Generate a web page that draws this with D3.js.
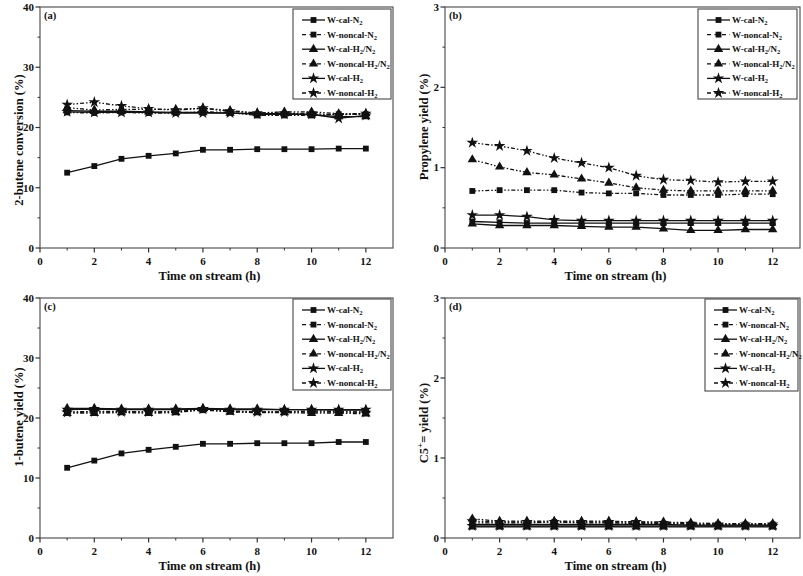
<!DOCTYPE html>
<html>
<head>
  <meta charset="utf-8">
  <script src="https://d3js.org/d3.v7.min.js"></script>
  <style>
    body { margin: 0; background: #fff; }
    svg text { font-family: "Liberation Serif", "Times New Roman", serif; font-weight: bold; fill: #111; }
  </style>
</head>
<body>
<script>
  // time on stream (h)
  var hours = [1, 2, 3, 4, 5, 6, 7, 8, 9, 10, 11, 12];

  // (a) 2-butene conversion (%)
  var convCalN2      = [12.5, 13.6, 14.8, 15.3, 15.7, 16.3, 16.3, 16.4, 16.4, 16.4, 16.5, 16.5];
  var convNoncalN2   = [22.5, 22.4, 22.5, 22.4, 22.4, 22.6, 22.5, 22.0, 22.0, 22.0, 22.2, 22.2];
  var convCalH2N2    = [22.8, 22.7, 22.7, 22.6, 22.5, 22.5, 22.4, 22.3, 22.3, 22.1, 21.8, 21.8];
  var convNoncalH2N2 = [23.3, 22.9, 23.0, 23.0, 23.0, 23.2, 22.8, 22.4, 22.6, 22.6, 22.3, 22.3];
  var convCalH2      = [22.6, 22.5, 22.5, 22.5, 22.4, 22.4, 22.4, 22.2, 22.2, 22.2, 21.5, 22.0];
  var convNoncalH2   = [23.8, 24.2, 23.6, 23.1, 22.9, 23.2, 22.7, 22.4, 22.4, 22.3, 22.1, 22.3];

  // (b) propylene yield (%)
  var propCalN2      = [0.33, 0.32, 0.31, 0.31, 0.31, 0.31, 0.31, 0.31, 0.31, 0.31, 0.31, 0.31];
  var propNoncalN2   = [0.71, 0.72, 0.72, 0.72, 0.69, 0.68, 0.68, 0.66, 0.66, 0.66, 0.67, 0.67];
  var propCalH2N2    = [0.30, 0.28, 0.28, 0.28, 0.27, 0.26, 0.26, 0.24, 0.22, 0.22, 0.23, 0.23];
  var propNoncalH2N2 = [1.10, 1.01, 0.94, 0.91, 0.86, 0.81, 0.75, 0.72, 0.71, 0.71, 0.71, 0.71];
  var propCalH2      = [0.41, 0.41, 0.39, 0.35, 0.34, 0.34, 0.34, 0.34, 0.34, 0.34, 0.34, 0.34];
  var propNoncalH2   = [1.31, 1.27, 1.21, 1.12, 1.06, 1.00, 0.90, 0.85, 0.84, 0.82, 0.83, 0.83];

  // (c) 1-butene yield (%)
  var butCalN2       = [11.7, 12.9, 14.1, 14.7, 15.2, 15.7, 15.7, 15.8, 15.8, 15.8, 16.0, 16.0];
  var butNoncalN2    = [21.0, 21.1, 21.1, 21.0, 21.0, 21.3, 21.1, 21.0, 21.0, 21.0, 21.0, 21.0];
  var butCalH2N2     = [21.6, 21.6, 21.5, 21.5, 21.5, 21.6, 21.5, 21.5, 21.4, 21.4, 21.3, 21.3];
  var butNoncalH2N2  = [20.8, 20.8, 20.9, 20.8, 20.9, 21.4, 21.0, 20.9, 20.9, 20.8, 20.8, 20.7];
  var butCalH2       = [21.4, 21.5, 21.4, 21.4, 21.4, 21.5, 21.4, 21.4, 21.4, 21.4, 21.4, 21.4];
  var butNoncalH2    = [20.9, 21.0, 21.0, 21.0, 21.1, 21.5, 21.2, 21.0, 21.0, 21.2, 21.1, 20.9];

  // (d) C5+ = yield (%)
  var c5CalN2        = [0.17, 0.17, 0.17, 0.17, 0.17, 0.17, 0.17, 0.17, 0.16, 0.16, 0.16, 0.16];
  var c5NoncalN2     = [0.19, 0.19, 0.19, 0.20, 0.19, 0.19, 0.18, 0.18, 0.17, 0.17, 0.17, 0.17];
  var c5CalH2N2      = [0.14, 0.14, 0.14, 0.14, 0.14, 0.14, 0.14, 0.14, 0.14, 0.14, 0.14, 0.14];
  var c5NoncalH2N2   = [0.24, 0.21, 0.21, 0.21, 0.21, 0.21, 0.20, 0.20, 0.19, 0.18, 0.18, 0.18];
  var c5CalH2        = [0.15, 0.15, 0.15, 0.15, 0.15, 0.15, 0.15, 0.15, 0.15, 0.15, 0.15, 0.15];
  var c5NoncalH2     = [0.21, 0.20, 0.20, 0.20, 0.20, 0.20, 0.20, 0.19, 0.18, 0.17, 0.17, 0.17];

  // legend labels: [text, subscript, text, subscript]
  var seriesLabels = [
    ["W-cal-N", "2"],
    ["W-noncal-N", "2"],
    ["W-cal-H", "2", "/N", "2"],
    ["W-noncal-H", "2", "/N", "2"],
    ["W-cal-H", "2"],
    ["W-noncal-H", "2"]
  ];
  var seriesSymbols = [d3.symbolSquare, d3.symbolSquare, d3.symbolTriangle, d3.symbolTriangle, d3.symbolStar, d3.symbolStar];
  var seriesDashed = [false, true, false, true, false, true];
  var symbolSizes = { square: 34, triangle: 38, star: 42 };

  var xTicks = [0, 2, 4, 6, 8, 10, 12];

  var svg = d3.select("body").append("svg")
      .attr("width", 803)
      .attr("height", 576);

  function symSize(s) {
    if (s === d3.symbolSquare) return symbolSizes.square;
    if (s === d3.symbolTriangle) return symbolSizes.triangle;
    return symbolSizes.star;
  }

  function drawPanel(p) {
    var x = d3.scaleLinear().domain([0, 13]).range([p.left, p.right]);
    var y = d3.scaleLinear().domain([0, p.ymax]).range([p.bottom, p.top]);
    var g = svg.append("g");

    // frame
    g.append("rect")
      .attr("x", p.left).attr("y", p.top)
      .attr("width", p.right - p.left).attr("height", p.bottom - p.top)
      .attr("fill", "none").attr("stroke", "#555").attr("stroke-width", 1.2);

    // x axis
    var xMinor = d3.range(1, 13, 2);
    g.selectAll(".xminor").data(xMinor).enter().append("line")
      .attr("x1", d => x(d)).attr("x2", d => x(d))
      .attr("y1", p.bottom).attr("y2", p.bottom + 2.5)
      .attr("stroke", "#333").attr("stroke-width", 1);
    g.selectAll(".xmajor").data(xTicks).enter().append("line")
      .attr("x1", d => x(d)).attr("x2", d => x(d))
      .attr("y1", p.bottom).attr("y2", p.bottom + 4.5)
      .attr("stroke", "#333").attr("stroke-width", 1.2);
    g.selectAll(".xlab").data(xTicks).enter().append("text")
      .attr("x", d => x(d)).attr("y", p.bottom + 17)
      .attr("text-anchor", "middle").style("font-size", "11px")
      .text(d => d);

    // y axis
    var yMinor = d3.range(p.ystep / 2, p.ymax, p.ystep);
    var yMajor = d3.range(0, p.ymax + p.ystep / 2, p.ystep);
    g.selectAll(".yminor").data(yMinor).enter().append("line")
      .attr("x1", p.left - 2.5).attr("x2", p.left)
      .attr("y1", d => y(d)).attr("y2", d => y(d))
      .attr("stroke", "#333").attr("stroke-width", 1);
    g.selectAll(".ymajor").data(yMajor).enter().append("line")
      .attr("x1", p.left - 4.5).attr("x2", p.left)
      .attr("y1", d => y(d)).attr("y2", d => y(d))
      .attr("stroke", "#333").attr("stroke-width", 1.2);
    g.selectAll(".ylab").data(yMajor).enter().append("text")
      .attr("x", p.left - 6).attr("y", d => y(d) + 3.8)
      .attr("text-anchor", "end").style("font-size", "11px")
      .text(d => d);

    // axis titles
    g.append("text")
      .attr("x", (p.left + p.right) / 2 - 7).attr("y", p.bottom + 32)
      .attr("text-anchor", "middle").style("font-size", "12.5px")
      .text("Time on stream (h)");

    var yt = g.append("text")
      .attr("transform", "translate(" + (p.left - 17) + "," + p.ytitleY + ") rotate(-90)")
      .attr("text-anchor", "middle").style("font-size", "12.5px");
    if (p.c5) {
      yt.append("tspan").text("C5");
      yt.append("tspan").attr("dy", -5).style("font-size", "9px").text("+");
      yt.append("tspan").attr("dy", 5).text("= yield (%)");
    } else {
      yt.text(p.ytitle);
    }

    // panel label
    g.append("text")
      .attr("x", p.left + 4).attr("y", p.top + 12)
      .style("font-size", "10.5px")
      .text(p.label);

    // series
    var line = d3.line().x(d => x(d[0])).y(d => y(d[1]));
    p.series.forEach(function (vals, i) {
      var pts = hours.map((h, k) => [h, vals[k]]);
      g.append("path")
        .attr("d", line(pts))
        .attr("fill", "none").attr("stroke", "#111")
        .attr("stroke-width", 1.3)
        .attr("stroke-dasharray", seriesDashed[i] ? "4,2,1.5,2,1.5,2" : null);
      var sym = d3.symbol().type(seriesSymbols[i]).size(symSize(seriesSymbols[i]));
      g.selectAll(null).data(pts).enter().append("path")
        .attr("transform", d => "translate(" + x(d[0]) + "," + y(d[1]) + ")")
        .attr("d", sym())
        .attr("fill", "#111");
    });

    // legend
    var lg = g.append("g").attr("transform", "translate(" + p.legend[0] + "," + p.legend[1] + ")");
    lg.append("rect").attr("width", p.legend[2]).attr("height", p.legend[3])
      .attr("fill", "#fff").attr("stroke", "#555").attr("stroke-width", 1.2);
    seriesLabels.forEach(function (lab, i) {
      var ry = 11 + i * 14.6;
      lg.append("line")
        .attr("x1", 9).attr("x2", 32).attr("y1", ry).attr("y2", ry)
        .attr("stroke", "#111").attr("stroke-width", 1.3)
        .attr("stroke-dasharray", seriesDashed[i] ? "4,3.5" : null);
      var sym = d3.symbol().type(seriesSymbols[i]).size(symSize(seriesSymbols[i]));
      lg.append("path")
        .attr("transform", "translate(20.5," + ry + ")")
        .attr("d", sym()).attr("fill", "#111");
      var t = lg.append("text").attr("x", 34).attr("y", ry + 3).style("font-size", "9px");
      lab.forEach(function (part, k) {
        if (k % 2 === 0) {
          t.append("tspan").attr("dy", k === 0 ? 0 : -2).style("font-size", "9px").text(part);
        } else {
          t.append("tspan").attr("dy", 2).style("font-size", "6.5px").text(part);
        }
      });
    });
  }

  drawPanel({
    label: "(a)", left: 40, right: 393, top: 7, bottom: 248,
    ymax: 40, ystep: 10, ytitle: "2-butene conversion (%)", ytitleY: 140,
    legend: [293, 9, 98, 90],
    series: [convCalN2, convNoncalN2, convCalH2N2, convNoncalH2N2, convCalH2, convNoncalH2]
  });
  drawPanel({
    label: "(b)", left: 445, right: 800, top: 7, bottom: 248,
    ymax: 3, ystep: 1, ytitle: "Propylene yield (%)", ytitleY: 127,
    legend: [698, 9, 99, 90],
    series: [propCalN2, propNoncalN2, propCalH2N2, propNoncalH2N2, propCalH2, propNoncalH2]
  });
  drawPanel({
    label: "(c)", left: 40, right: 393, top: 298, bottom: 538,
    ymax: 40, ystep: 10, ytitle: "1-butene yield (%)", ytitleY: 417,
    legend: [293, 299, 98, 91],
    series: [butCalN2, butNoncalN2, butCalH2N2, butNoncalH2N2, butCalH2, butNoncalH2]
  });
  drawPanel({
    label: "(d)", left: 445, right: 800, top: 298, bottom: 538,
    ymax: 3, ystep: 1, c5: true, ytitleY: 423,
    legend: [705, 299, 93, 92],
    series: [c5CalN2, c5NoncalN2, c5CalH2N2, c5NoncalH2N2, c5CalH2, c5NoncalH2]
  });
</script>
</body>
</html>
